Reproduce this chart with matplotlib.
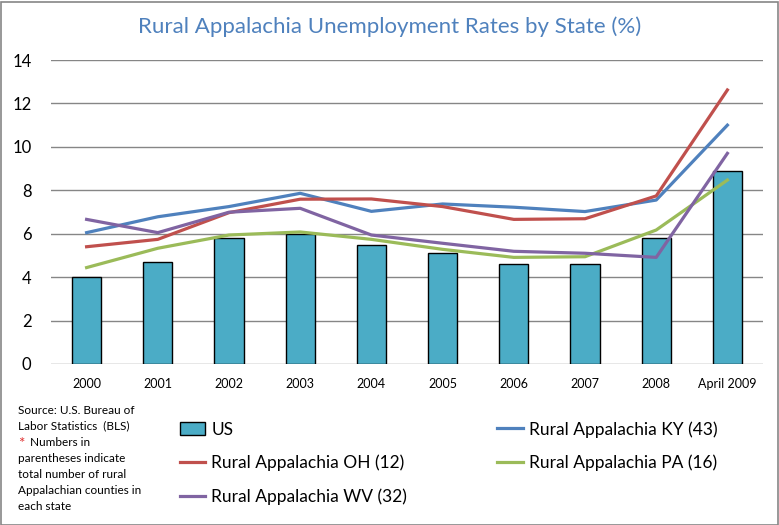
import matplotlib.pyplot as plt
import numpy as np
from matplotlib.patches import Rectangle

plt.rcParams['font.family'] = ['Lato', 'DejaVu Sans']

years = ['2000', '2001', '2002', '2003', '2004', '2005', '2006', '2007', '2008', 'April 2009']
us = [4.0, 4.7, 5.8, 6.0, 5.5, 5.1, 4.6, 4.6, 5.8, 8.9]
ky = [6.05, 6.78, 7.25, 7.86, 7.03, 7.37, 7.22, 7.02, 7.55, 11.0]
oh = [5.4, 5.74, 6.97, 7.59, 7.6, 7.25, 6.66, 6.69, 7.74, 12.62]
pa = [4.44, 5.33, 5.94, 6.08, 5.74, 5.28, 4.91, 4.94, 6.17, 8.47]
wv = [6.66, 6.05, 6.99, 7.17, 5.94, 5.56, 5.19, 5.1, 4.91, 9.7]

fig = plt.figure(figsize=(7.79, 5.25), dpi=100)
ax = fig.add_axes([51 / 779, 1 - 364 / 525, 712 / 779, 304 / 525])

x = np.arange(len(years))
bars = ax.bar(x, us, width=0.41, color='#4BACC6', edgecolor='black', linewidth=1.0, label='US', zorder=2)
l_ky, = ax.plot(x, ky, color='#4F81BD', lw=2.3, label='Rural Appalachia KY (43)', zorder=3)
l_oh, = ax.plot(x, oh, color='#C0504D', lw=2.3, label='Rural Appalachia OH (12)', zorder=3)
l_pa, = ax.plot(x, pa, color='#9BBB59', lw=2.3, label='Rural Appalachia PA (16)', zorder=3)
l_wv, = ax.plot(x, wv, color='#8064A2', lw=2.3, label='Rural Appalachia WV (32)', zorder=3)

ax.set_xlim(-0.5, 9.5)
ax.set_ylim(0, 14)
ax.set_yticks(range(0, 15, 2))
ax.set_xticks(x)
ax.set_xticklabels(years, fontsize=9)
ax.tick_params(axis='y', labelsize=12, length=0, pad=14)
ax.tick_params(axis='x', length=0, pad=10)
ax.grid(axis='y', color='#868686', lw=1.0, zorder=0)
for s in ax.spines.values():
    s.set_visible(False)

fig.text(0.5, 1 - 27 / 525, 'Rural Appalachia Unemployment Rates by State (%)',
         ha='center', va='center', fontsize=16, color='#4F81BD')

fig.legend([bars, l_oh, l_wv, l_ky, l_pa],
           ['US', 'Rural Appalachia OH (12)', 'Rural Appalachia WV (32)',
            'Rural Appalachia KY (43)', 'Rural Appalachia PA (16)'],
           ncol=2, loc='upper left', bbox_to_anchor=(180 / 779, 1 - 421 / 525),
           frameon=False, fontsize=12.5, handlelength=1.45, handletextpad=0.35,
           columnspacing=5.2, labelspacing=0.98, borderaxespad=0, borderpad=0)

src = ['Source: U.S. Bureau of', 'Labor Statistics  (BLS)', '* Numbers in',
       'parentheses indicate', 'total number of rural', 'Appalachian counties in', 'each state']
for i, line in enumerate(src):
    yy = 1 - (410 + i * 16) / 525
    if line.startswith('*'):
        fig.text(18 / 779, yy - 0.004, '*', color='#E03030', fontsize=11, va='center')
        fig.text(27 / 779, yy, line[1:], fontsize=8.5, va='center')
    else:
        fig.text(18 / 779, yy, line, fontsize=8.5, va='center')

fig.patches.append(Rectangle((0.5 / 779, 0.5 / 525), 777 / 779, 523 / 525, transform=fig.transFigure,
                             fill=False, edgecolor='#868686', lw=1.2))

fig.savefig('out.png', dpi=100)
